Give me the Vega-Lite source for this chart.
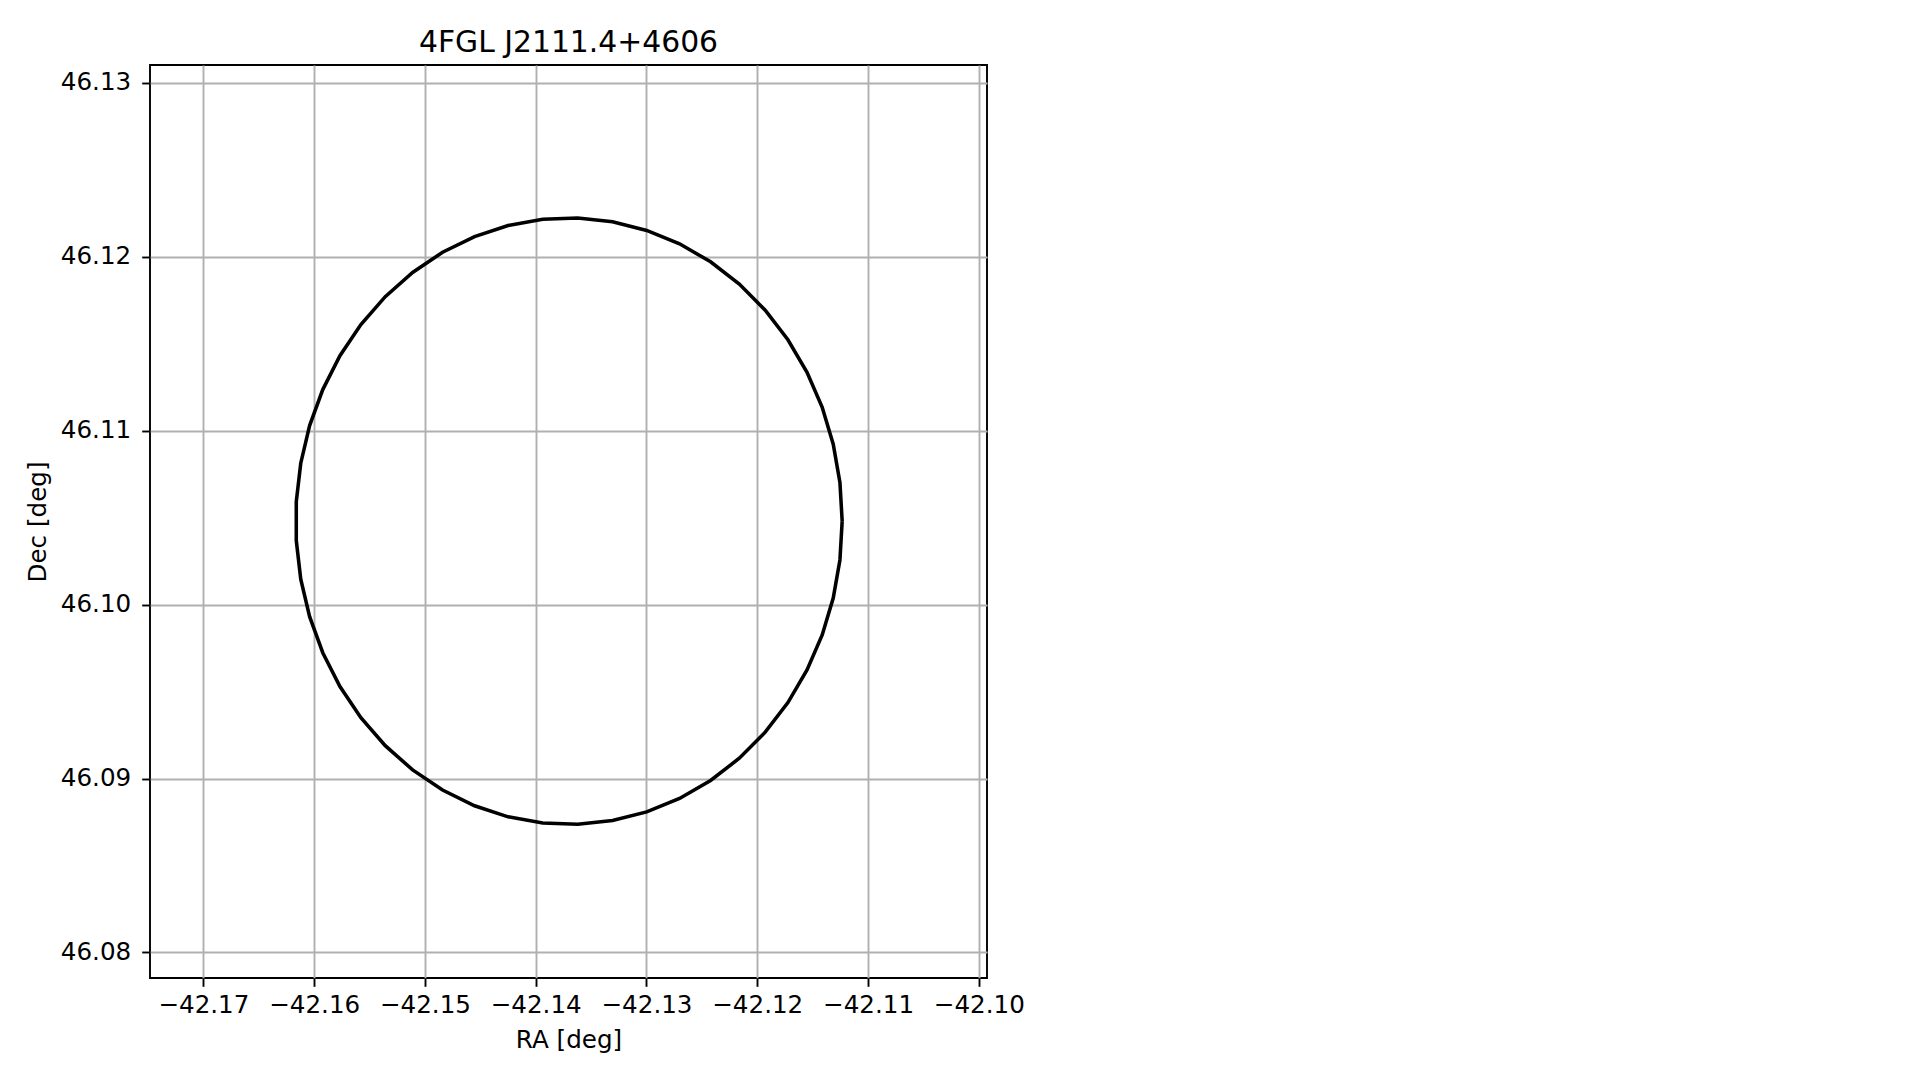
{
  "$schema": "https://vega.github.io/schema/vega-lite/v6.json",
  "width": 837,
  "height": 913,
  "autosize": {"type": "none"},
  "padding": {"left": 150, "top": 65, "right": 932, "bottom": 102},
  "background": "white",
  "title": {
    "text": "4FGL J2111.4+4606",
    "font": "DejaVu Sans",
    "fontSize": 29.8,
    "fontWeight": "normal",
    "color": "black",
    "anchor": "middle",
    "frame": "group",
    "baseline": "alphabetic",
    "offset": -16.5
  },
  "config": {
    "view": {"stroke": "black", "strokeWidth": 1.9},
    "axis": {
      "domain": false,
      "grid": true,
      "gridColor": "#b0b0b0",
      "gridWidth": 1.9,
      "gridOpacity": 1,
      "tickColor": "black",
      "tickWidth": 1.9,
      "tickSize": 8.3,
      "labelFont": "DejaVu Sans",
      "labelFontSize": 24.6,
      "labelColor": "black",
      "labelFlush": false,
      "labelOverlap": false,
      "titleFont": "DejaVu Sans",
      "titleFontSize": 24.6,
      "titleFontWeight": "normal",
      "titleColor": "black"
    }
  },
  "data": {
    "values": [
      {"i": 0, "ra": -42.112334, "dec": 46.1048},
      {"i": 1, "ra": -42.112537, "dec": 46.10703},
      {"i": 2, "ra": -42.113141, "dec": 46.109224},
      {"i": 3, "ra": -42.114137, "dec": 46.111344},
      {"i": 4, "ra": -42.115508, "dec": 46.113358},
      {"i": 5, "ra": -42.117232, "dec": 46.115231},
      {"i": 6, "ra": -42.119281, "dec": 46.116932},
      {"i": 7, "ra": -42.121621, "dec": 46.118434},
      {"i": 8, "ra": -42.124214, "dec": 46.119713},
      {"i": 9, "ra": -42.127015, "dec": 46.120747},
      {"i": 10, "ra": -42.129982, "dec": 46.121518},
      {"i": 11, "ra": -42.133063, "dec": 46.122016},
      {"i": 12, "ra": -42.136209, "dec": 46.12223},
      {"i": 13, "ra": -42.139368, "dec": 46.122158},
      {"i": 14, "ra": -42.142489, "dec": 46.121802},
      {"i": 15, "ra": -42.145519, "dec": 46.121166},
      {"i": 16, "ra": -42.148409, "dec": 46.120261},
      {"i": 17, "ra": -42.151112, "dec": 46.119103},
      {"i": 18, "ra": -42.153583, "dec": 46.11771},
      {"i": 19, "ra": -42.155782, "dec": 46.116105},
      {"i": 20, "ra": -42.157672, "dec": 46.114313},
      {"i": 21, "ra": -42.159223, "dec": 46.112366},
      {"i": 22, "ra": -42.16041, "dec": 46.110295},
      {"i": 23, "ra": -42.161211, "dec": 46.108133},
      {"i": 24, "ra": -42.161615, "dec": 46.105917},
      {"i": 25, "ra": -42.161615, "dec": 46.103683},
      {"i": 26, "ra": -42.161211, "dec": 46.101467},
      {"i": 27, "ra": -42.16041, "dec": 46.099305},
      {"i": 28, "ra": -42.159223, "dec": 46.097234},
      {"i": 29, "ra": -42.157672, "dec": 46.095287},
      {"i": 30, "ra": -42.155782, "dec": 46.093495},
      {"i": 31, "ra": -42.153583, "dec": 46.09189},
      {"i": 32, "ra": -42.151112, "dec": 46.090497},
      {"i": 33, "ra": -42.148409, "dec": 46.089339},
      {"i": 34, "ra": -42.145519, "dec": 46.088434},
      {"i": 35, "ra": -42.142489, "dec": 46.087798},
      {"i": 36, "ra": -42.139368, "dec": 46.087442},
      {"i": 37, "ra": -42.136209, "dec": 46.08737},
      {"i": 38, "ra": -42.133063, "dec": 46.087584},
      {"i": 39, "ra": -42.129982, "dec": 46.088082},
      {"i": 40, "ra": -42.127015, "dec": 46.088853},
      {"i": 41, "ra": -42.124214, "dec": 46.089887},
      {"i": 42, "ra": -42.121621, "dec": 46.091166},
      {"i": 43, "ra": -42.119281, "dec": 46.092668},
      {"i": 44, "ra": -42.117232, "dec": 46.094369},
      {"i": 45, "ra": -42.115508, "dec": 46.096242},
      {"i": 46, "ra": -42.114137, "dec": 46.098256},
      {"i": 47, "ra": -42.113141, "dec": 46.100376},
      {"i": 48, "ra": -42.112537, "dec": 46.10257},
      {"i": 49, "ra": -42.112334, "dec": 46.1048}
    ]
  },
  "mark": {"type": "line", "color": "black", "strokeWidth": 3.55, "clip": false},
  "encoding": {
    "x": {
      "field": "ra",
      "type": "quantitative",
      "scale": {"domain": [-42.17482, -42.09926], "nice": false, "zero": false},
      "axis": {
        "values": [-42.17, -42.16, -42.15, -42.14, -42.13, -42.12, -42.11, -42.10],
        "format": ".2f",
        "labelPadding": 7,
        "title": "RA [deg]",
        "titleY": 69,
        "titleBaseline": "alphabetic"
      }
    },
    "y": {
      "field": "dec",
      "type": "quantitative",
      "scale": {"domain": [46.07853, 46.13103], "nice": false, "zero": false},
      "axis": {
        "values": [46.08, 46.09, 46.10, 46.11, 46.12, 46.13],
        "format": ".2f",
        "labelPadding": 11,
        "title": "Dec [deg]",
        "titleX": -105,
        "titleY": 456.5,
        "titleAngle": -90,
        "titleAlign": "center",
        "titleBaseline": "alphabetic"
      }
    },
    "order": {"field": "i", "type": "quantitative"}
  }
}
